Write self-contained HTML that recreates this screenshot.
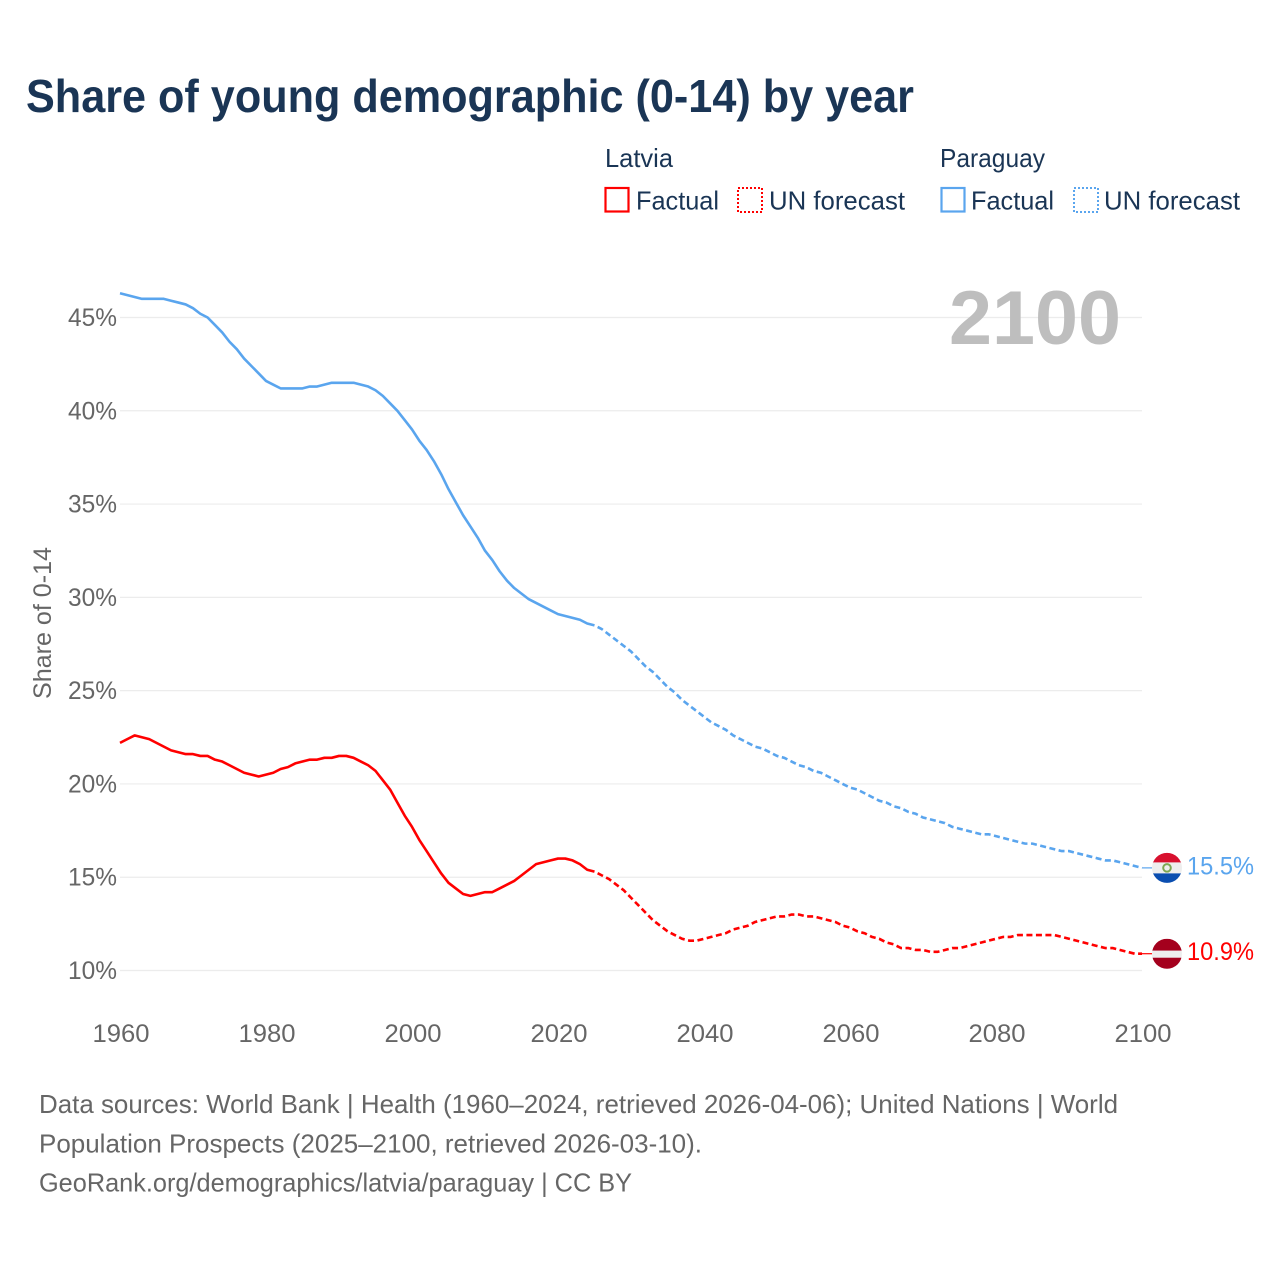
<!DOCTYPE html>
<html lang="en">
<head>
<meta charset="utf-8">
<title>Share of young demographic (0-14) by year</title>
<style>
html,body{margin:0;padding:0;background:#fff;width:1280px;height:1280px;overflow:hidden}
svg{display:block;font-family:"Liberation Sans",sans-serif}
</style>
</head>
<body>
<svg id="chart" width="1280" height="1280" viewBox="0 0 1280 1280" xmlns="http://www.w3.org/2000/svg">
  <rect width="1280" height="1280" fill="#ffffff"/>
  <text x="26" y="112" font-size="46" font-weight="700" fill="#1a3555" textLength="888" lengthAdjust="spacingAndGlyphs">Share of young demographic (0-14) by year</text>

  <g font-size="26" fill="#1a3555">
    <text x="605" y="167" textLength="68" lengthAdjust="spacingAndGlyphs">Latvia</text>
    <rect x="605.5" y="188" width="23" height="23.5" fill="none" stroke="#ff0000" stroke-width="2.2"/>
    <text x="636" y="209.5" textLength="83" lengthAdjust="spacingAndGlyphs">Factual</text>
    <rect x="738" y="188" width="24" height="24" fill="none" stroke="#ff0000" stroke-width="2" stroke-dasharray="2 2"/>
    <text x="769" y="209.5" textLength="136" lengthAdjust="spacingAndGlyphs">UN forecast</text>
    <text x="940" y="167" textLength="105" lengthAdjust="spacingAndGlyphs">Paraguay</text>
    <rect x="941.5" y="188" width="23" height="23.5" fill="none" stroke="#5aa5ee" stroke-width="2.2"/>
    <text x="971" y="209.5" textLength="83" lengthAdjust="spacingAndGlyphs">Factual</text>
    <rect x="1074" y="188" width="24" height="24" fill="none" stroke="#5aa5ee" stroke-width="2" stroke-dasharray="2 2"/>
    <text x="1104" y="209.5" textLength="136" lengthAdjust="spacingAndGlyphs">UN forecast</text>
  </g>

  <g id="grid"></g>
  <g id="yticks" font-size="25" fill="#666666" text-anchor="end"></g>
  <g id="xticks" font-size="25" fill="#666666"></g>
  <text transform="translate(51,623) rotate(-90)" text-anchor="middle" font-size="25" fill="#666666" textLength="152" lengthAdjust="spacingAndGlyphs">Share of 0-14</text>
  <text x="949" y="344" font-size="76" font-weight="700" fill="#bebebe" textLength="172" lengthAdjust="spacingAndGlyphs">2100</text>

  <g id="series"></g>

  <g id="flag-paraguay">
    <clipPath id="clip-py"><circle cx="0" cy="0" r="15"/></clipPath>
    <g clip-path="url(#clip-py)">
      <rect x="-15" y="-16" width="30" height="11" fill="#d8112f"/>
      <rect x="-15" y="-5.5" width="30" height="11" fill="#eeeeee"/>
      <rect x="-15" y="5.5" width="30" height="10" fill="#0a4eb0"/>
      <circle cx="0" cy="0" r="3.8" fill="none" stroke="#7da652" stroke-width="2"/>
    </g>
  </g>
  <g id="flag-latvia">
    <clipPath id="clip-lv"><circle cx="0" cy="0" r="15"/></clipPath>
    <g clip-path="url(#clip-lv)">
      <rect x="-15" y="-15" width="30" height="12" fill="#a4001d"/>
      <rect x="-15" y="-3" width="30" height="7" fill="#eeeeee"/>
      <rect x="-15" y="4" width="30" height="12" fill="#a4001d"/>
    </g>
  </g>
  <text id="label-paraguay" x="1187" font-size="25" fill="#5aa5ee" textLength="67" lengthAdjust="spacingAndGlyphs"></text>
  <text id="label-latvia" x="1187" font-size="25" fill="#ff0000" textLength="67" lengthAdjust="spacingAndGlyphs"></text>

  <g font-size="26" fill="#666666">
    <text x="39" y="1113" textLength="1079" lengthAdjust="spacingAndGlyphs">Data sources: World Bank | Health (1960–2024, retrieved 2026-04-06); United Nations | World</text>
    <text x="39" y="1152.5" textLength="663" lengthAdjust="spacingAndGlyphs">Population Prospects (2025–2100, retrieved 2026-03-10).</text>
    <text x="39" y="1191.5" textLength="593" lengthAdjust="spacingAndGlyphs">GeoRank.org/demographics/latvia/paraguay | CC BY</text>
  </g>
</svg>
<script>
const firstYear = 1960;
const lastFactualYear = 2025;
const yTickValues = [10, 15, 20, 25, 30, 35, 40, 45];
const xTickValues = [1960, 1980, 2000, 2020, 2040, 2060, 2080, 2100];
const latviaValues = [
22.2,22.4,22.6,22.5,22.4,22.2,22.0,21.8,21.7,21.6,
21.6,21.5,21.5,21.3,21.2,21.0,20.8,20.6,20.5,20.4,
20.5,20.6,20.8,20.9,21.1,21.2,21.3,21.3,21.4,21.4,
21.5,21.5,21.4,21.2,21.0,20.7,20.2,19.7,19.0,18.3,
17.7,17.0,16.4,15.8,15.2,14.7,14.4,14.1,14.0,14.1,
14.2,14.2,14.4,14.6,14.8,15.1,15.4,15.7,15.8,15.9,
16.0,16.0,15.9,15.7,15.4,15.3,15.1,14.9,14.6,14.3,
13.9,13.5,13.1,12.7,12.4,12.1,11.9,11.7,11.6,11.6,
11.7,11.8,11.9,12.0,12.2,12.3,12.4,12.6,12.7,12.8,
12.9,12.9,13.0,13.0,12.9,12.9,12.8,12.7,12.6,12.4,
12.3,12.1,12.0,11.8,11.7,11.5,11.4,11.2,11.2,11.1,
11.1,11.0,11.0,11.1,11.2,11.2,11.3,11.4,11.5,11.6,
11.7,11.8,11.8,11.9,11.9,11.9,11.9,11.9,11.9,11.8,
11.7,11.6,11.5,11.4,11.3,11.2,11.2,11.1,11.0,10.9,10.9
];
const paraguayValues = [
46.3,46.2,46.1,46.0,46.0,46.0,46.0,45.9,45.8,45.7,
45.5,45.2,45.0,44.6,44.2,43.7,43.3,42.8,42.4,42.0,
41.6,41.4,41.2,41.2,41.2,41.2,41.3,41.3,41.4,41.5,
41.5,41.5,41.5,41.4,41.3,41.1,40.8,40.4,40.0,39.5,
39.0,38.4,37.9,37.3,36.6,35.8,35.1,34.4,33.8,33.2,
32.5,32.0,31.4,30.9,30.5,30.2,29.9,29.7,29.5,29.3,
29.1,29.0,28.9,28.8,28.6,28.5,28.3,28.0,27.7,27.4,
27.1,26.7,26.3,26.0,25.6,25.2,24.9,24.5,24.2,23.9,
23.6,23.3,23.1,22.9,22.6,22.4,22.2,22.0,21.9,21.7,
21.5,21.4,21.2,21.0,20.9,20.7,20.6,20.4,20.2,20.0,
19.8,19.7,19.5,19.3,19.1,19.0,18.8,18.7,18.5,18.4,
18.2,18.1,18.0,17.9,17.7,17.6,17.5,17.4,17.3,17.3,
17.2,17.1,17.0,16.9,16.8,16.8,16.7,16.6,16.5,16.4,
16.4,16.3,16.2,16.1,16.0,15.9,15.9,15.8,15.7,15.6,15.5
];

const SVG_NS = 'http://www.w3.org/2000/svg';
function xScale(year) { return 120 + (year - 1960) * (1142 - 120) / 140; }
function yScale(value) { return 970.5 - (value - 10) * (970.5 - 317.5) / 35; }
function make(tag, parent) {
  const el = document.createElementNS(SVG_NS, tag);
  parent.appendChild(el);
  return el;
}
function pathFrom(values, fromYear, toYear) {
  let d = '';
  for (let year = fromYear; year <= toYear; year++) {
    const v = values[year - firstYear];
    d += (d ? 'L' : 'M') + xScale(year).toFixed(2) + ' ' + yScale(v).toFixed(2);
  }
  return d;
}

const gridG = document.getElementById('grid');
const yG = document.getElementById('yticks');
yTickValues.forEach(function (v) {
  const line = make('line', gridG);
  
  
  line.setAttribute('x1', 120);
  line.setAttribute('x2', 1142);
  line.setAttribute('y1', yScale(v));
  line.setAttribute('y2', yScale(v));
  line.setAttribute('stroke', '#ececec');
  line.setAttribute('stroke-width', 1.2);
  const t = make('text', yG);
  
  
  t.setAttribute('x', 117);
  t.setAttribute('y', yScale(v) + 8.5);
  t.setAttribute('textLength', 49);
  t.setAttribute('lengthAdjust', 'spacingAndGlyphs');
  t.textContent = v + '%';
});

const xG = document.getElementById('xticks');
xTickValues.forEach(function (year) {
  const t = make('text', xG);
  
  
  t.setAttribute('x', xScale(year) + 1);
  t.setAttribute('y', 1042);
  t.setAttribute('text-anchor', 'middle');
  t.setAttribute('textLength', 57);
  t.setAttribute('lengthAdjust', 'spacingAndGlyphs');
  t.textContent = year;
});

const seriesG = document.getElementById('series');
function drawSeries(values, color, flagId, labelId, labelOffset) {
  const endYear = firstYear + values.length - 1;
  const endValue = values[values.length - 1];

  const solid = make('path', seriesG);
  
  
  solid.setAttribute('d', pathFrom(values, firstYear, lastFactualYear));
  solid.setAttribute('fill', 'none');
  solid.setAttribute('stroke', color);
  solid.setAttribute('stroke-width', 2.6);
  solid.setAttribute('stroke-linejoin', 'round');

  const dashed = make('path', seriesG);
  
  
  dashed.setAttribute('d', pathFrom(values, lastFactualYear, endYear));
  dashed.setAttribute('fill', 'none');
  dashed.setAttribute('stroke', color);
  dashed.setAttribute('stroke-width', 2.6);
  dashed.setAttribute('stroke-dasharray', '6 3.5');
  dashed.setAttribute('stroke-dashoffset', '6');

  const connector = make('line', seriesG);
  
  
  connector.setAttribute('x1', xScale(endYear));
  connector.setAttribute('x2', xScale(endYear) + 10);
  connector.setAttribute('y1', yScale(endValue));
  connector.setAttribute('y2', yScale(endValue));
  connector.setAttribute('stroke', color);
  connector.setAttribute('stroke-width', 1.2);

  const flag = document.getElementById(flagId);
  flag.setAttribute('transform', 'translate(' + (xScale(endYear) + 25) + ',' + yScale(endValue) + ')');
  const label = document.getElementById(labelId);
  label.setAttribute('y', yScale(endValue) + labelOffset);
  label.textContent = endValue.toFixed(1) + '%';
}
drawSeries(paraguayValues, '#5aa5ee', 'flag-paraguay', 'label-paraguay', 6.5);
drawSeries(latviaValues, '#ff0000', 'flag-latvia', 'label-latvia', 6.5);
</script>
</body>
</html>
